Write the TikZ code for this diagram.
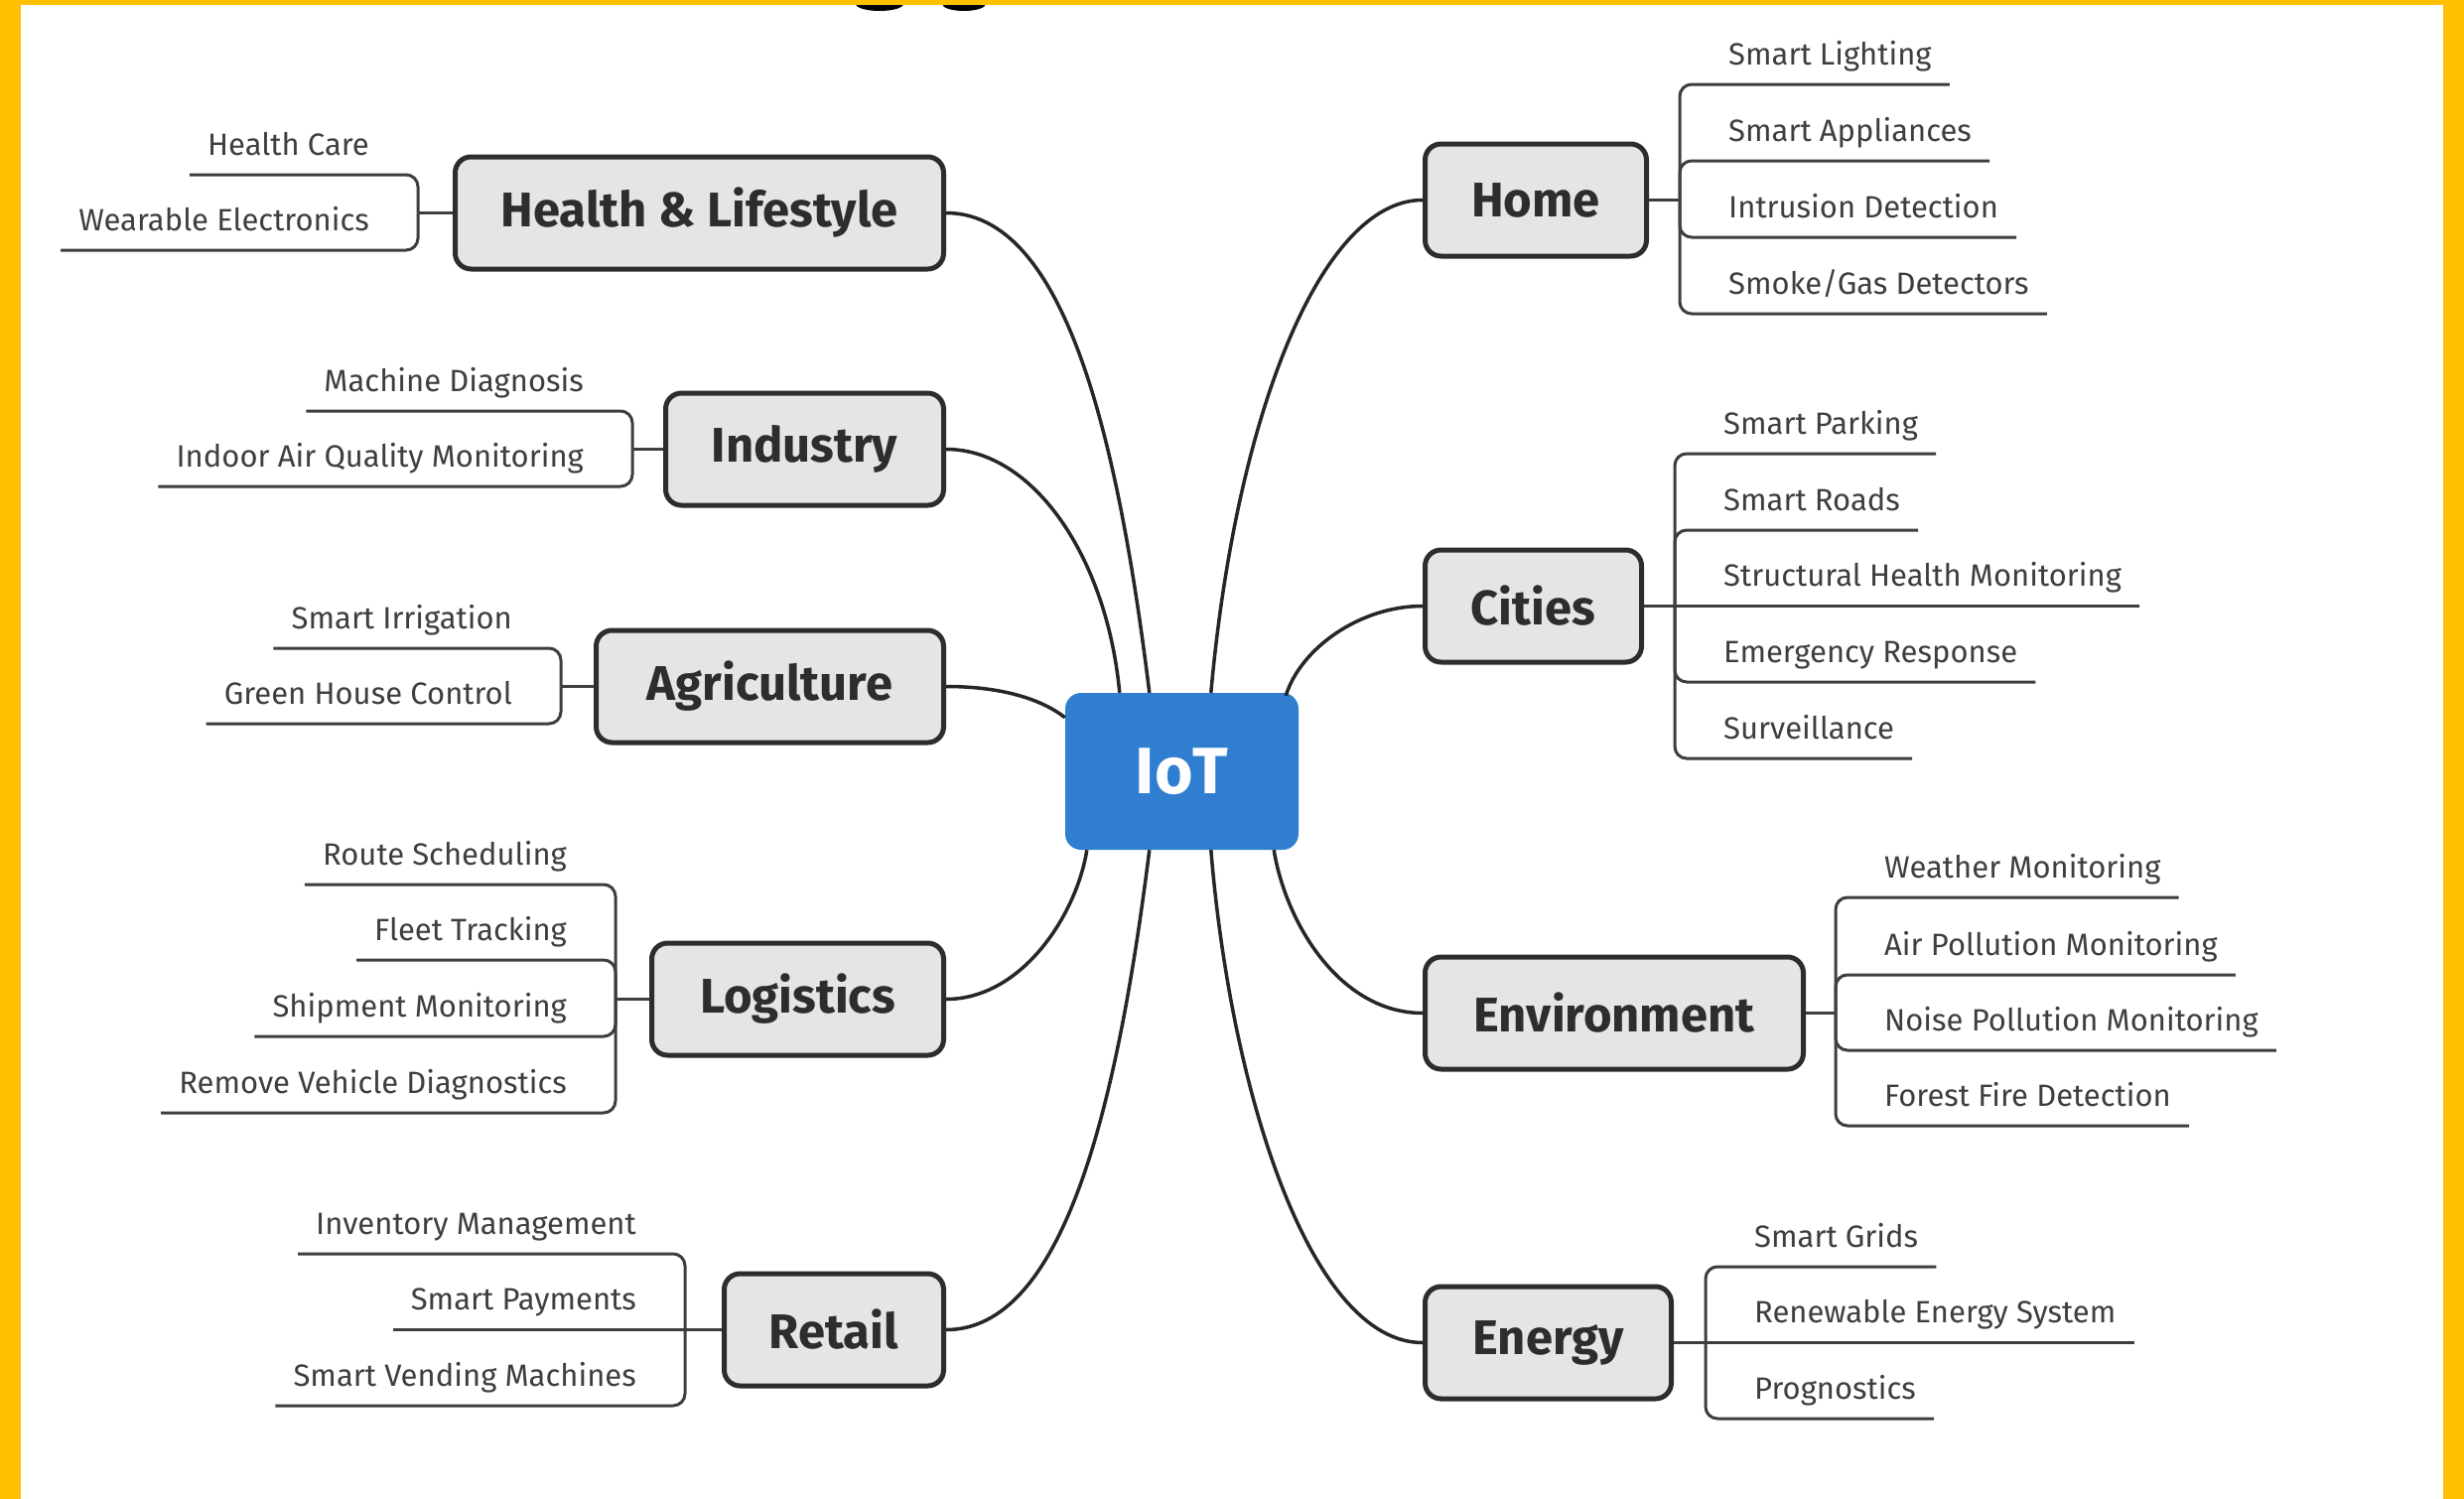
\documentclass[tikz,border=0pt]{standalone}
\usepackage{fontspec}
\setmainfont{Fira Sans}
\usetikzlibrary{calc}
\definecolor{iotblue}{RGB}{47,126,208}
\definecolor{boxgray}{RGB}{229,229,229}
\definecolor{edgegray}{RGB}{45,45,45}
\definecolor{leafgray}{RGB}{62,62,62}
\definecolor{frameyellow}{RGB}{255,192,0}
\begin{document}
\begin{tikzpicture}[x=1pt,y=-1pt,
  mainbox/.style={draw=edgegray, line width=5pt, fill=boxgray, rounded corners=16pt,
    minimum height=113pt, inner sep=0pt, text=edgegray,
    font=\bfseries\fontsize{49}{56}\selectfont},
  iotbox/.style={fill=iotblue, rounded corners=16pt, minimum width=235pt,
    minimum height=158pt, inner sep=0pt, text=white,
    font=\bfseries\fontsize{66}{76}\selectfont},
  link/.style={draw=black!85, line width=3.5pt},
  leafL/.style={anchor=base east, inner xsep=18pt, inner ysep=0pt, text=leafgray,
    font=\fontsize{31}{36}\selectfont},
  leafR/.style={anchor=base west, inner xsep=18pt, inner ysep=0pt, text=leafgray,
    font=\fontsize{31}{36}\selectfont},
  leafline/.style={draw=leafgray, line width=3pt, rounded corners=12pt},
  stubline/.style={draw=leafgray, line width=2.5pt}
]
\useasboundingbox (0,0) rectangle (2482,1510);
\fill[white] (0,0) rectangle (2482,1510);
% partial title glyphs at the top edge
\fill[black] (886,4) ellipse [x radius=24, y radius=7];
\fill[black] (971,4) ellipse [x radius=22, y radius=7];
% yellow frame
\fill[frameyellow] (0,0) rectangle (21,1510);
\fill[frameyellow] (0,0) rectangle (2482,5);
\fill[frameyellow] (2461,0) rectangle (2482,1510);

% central node
\node[iotbox] (iot) at (1190.5,777) {IoT};

% main nodes
\node[mainbox, minimum width=492pt] (health) at (704.5,214.5) {Health \& Lifestyle};
\node[mainbox, minimum width=280pt] (industry) at (810.5,452.5) {Industry};
\node[mainbox, minimum width=350pt] (agri) at (775.5,691.5) {Agriculture};
\node[mainbox, minimum width=294pt] (logi) at (803.5,1006.5) {Logistics};
\node[mainbox, minimum width=221pt] (retail) at (840,1339.5) {Retail};
\node[mainbox, minimum width=223pt] (home) at (1547,201.5) {Home};
\node[mainbox, minimum width=218pt] (cities) at (1544.5,610.5) {Cities};
\node[mainbox, minimum width=381pt] (env) at (1626,1020.5) {Environment};
\node[mainbox, minimum width=248pt] (energy) at (1559.5,1352.5) {Energy};

% links to IoT
\draw[link] (health.east) .. controls +(117,0) and +(-33,-268) .. ($(iot.north west)+(85,0)$);
\draw[link] (industry.east) .. controls +(87,0) and +(-13,-138) .. ($(iot.north west)+(55,0)$);
\draw[link] (agri.east) .. controls +(57,0) and +(-23,-18) .. ($(iot.north west)+(0,25)$);
\draw[link] (logi.east) .. controls +(77,0) and +(-10,64) .. ($(iot.south west)+(22,0)$);
\draw[link] (retail.east) .. controls +(117,0) and +(-33,264) .. ($(iot.south west)+(85,0)$);
\draw[link] (home.west) .. controls +(-103,0) and +(25,-278) .. ($(iot.north west)+(147,0)$);
\draw[link] (cities.west) .. controls +(-63,0) and +(15,-48) .. ($(iot.north east)+(-13,3)$);
\draw[link] (env.west) .. controls +(-83,0) and +(12,74) .. ($(iot.south east)+(-25,0)$);
\draw[link] (energy.west) .. controls +(-113,0) and +(20,244) .. ($(iot.south west)+(147,0)$);

% Health & Lifestyle
\coordinate (hb) at (421,214.5);
\node[leafL] (h1) at (390,156) {Health Care};
\node[leafL] (h2) at (390,232) {Wearable Electronics};
\draw[leafline] ($(h1.base west)+(0,20)$) -| (hb);
\draw[leafline] ($(h2.base west)+(0,20)$) -| (hb);
\draw[stubline] (hb) -- (health.west);

% Industry
\coordinate (ib) at (637,452.5);
\node[leafL] (i1) at (606,394) {Machine Diagnosis};
\node[leafL] (i2) at (606,470) {Indoor Air Quality Monitoring};
\draw[leafline] ($(i1.base west)+(0,20)$) -| (ib);
\draw[leafline] ($(i2.base west)+(0,20)$) -| (ib);
\draw[stubline] (ib) -- (industry.west);

% Agriculture
\coordinate (ab) at (565,691.5);
\node[leafL] (a1) at (534,633) {Smart Irrigation};
\node[leafL] (a2) at (534,709) {Green House Control};
\draw[leafline] ($(a1.base west)+(0,20)$) -| (ab);
\draw[leafline] ($(a2.base west)+(0,20)$) -| (ab);
\draw[stubline] (ab) -- (agri.west);

% Logistics
\coordinate (lb) at (620,1006.5);
\node[leafL] (l1) at (589,871) {Route Scheduling};
\node[leafL] (l2) at (589,947) {Fleet Tracking};
\node[leafL] (l3) at (589,1024) {Shipment Monitoring};
\node[leafL] (l4) at (589,1101) {Remove Vehicle Diagnostics};
\draw[leafline] ($(l1.base west)+(0,20)$) -| (lb);
\draw[leafline] ($(l2.base west)+(0,20)$) -| (lb);
\draw[leafline] ($(l3.base west)+(0,20)$) -| (lb);
\draw[leafline] ($(l4.base west)+(0,20)$) -| (lb);
\draw[stubline] (lb) -- (logi.west);

% Retail
\coordinate (rb) at (690,1339.5);
\node[leafL] (r1) at (659,1243) {Inventory Management};
\node[leafL] (r2) at (659,1319.5) {Smart Payments};
\node[leafL] (r3) at (659,1396) {Smart Vending Machines};
\draw[leafline] ($(r1.base west)+(0,20)$) -| (rb);
\draw[leafline] ($(r2.base west)+(0,20)$) -- (rb);
\draw[leafline] ($(r3.base west)+(0,20)$) -| (rb);
\draw[stubline] (rb) -- (retail.west);

% Home
\coordinate (mb) at (1692,201.5);
\node[leafR] (m1) at (1723,65) {Smart Lighting};
\node[leafR] (m2) at (1723,142) {Smart Appliances};
\node[leafR] (m3) at (1723,219) {Intrusion Detection};
\node[leafR] (m4) at (1723,296) {Smoke/Gas Detectors};
\draw[leafline] ($(m1.base east)+(0,20)$) -| (mb);
\draw[leafline] ($(m2.base east)+(0,20)$) -| (mb);
\draw[leafline] ($(m3.base east)+(0,20)$) -| (mb);
\draw[leafline] ($(m4.base east)+(0,20)$) -| (mb);
\draw[stubline] (mb) -- (home.east);

% Cities
\coordinate (cb) at (1687,610.5);
\node[leafR] (c1) at (1718,437) {Smart Parking};
\node[leafR] (c2) at (1718,514) {Smart Roads};
\node[leafR] (c3) at (1718,590.5) {Structural Health Monitoring};
\node[leafR] (c4) at (1718,667) {Emergency Response};
\node[leafR] (c5) at (1718,744) {Surveillance};
\draw[leafline] ($(c1.base east)+(0,20)$) -| (cb);
\draw[leafline] ($(c2.base east)+(0,20)$) -| (cb);
\draw[leafline] ($(c3.base east)+(0,20)$) -- (cb);
\draw[leafline] ($(c4.base east)+(0,20)$) -| (cb);
\draw[leafline] ($(c5.base east)+(0,20)$) -| (cb);
\draw[stubline] (cb) -- (cities.east);

% Environment
\coordinate (eb) at (1849,1020.5);
\node[leafR] (e1) at (1880,884) {Weather Monitoring};
\node[leafR] (e2) at (1880,962) {Air Pollution Monitoring};
\node[leafR] (e3) at (1880,1038) {Noise Pollution Monitoring};
\node[leafR] (e4) at (1880,1114) {Forest Fire Detection};
\draw[leafline] ($(e1.base east)+(0,20)$) -| (eb);
\draw[leafline] ($(e2.base east)+(0,20)$) -| (eb);
\draw[leafline] ($(e3.base east)+(0,20)$) -| (eb);
\draw[leafline] ($(e4.base east)+(0,20)$) -| (eb);
\draw[stubline] (eb) -- (env.east);

% Energy
\coordinate (gb) at (1718,1352.5);
\node[leafR] (g1) at (1749,1256) {Smart Grids};
\node[leafR] (g2) at (1749,1332.5) {Renewable Energy System};
\node[leafR] (g3) at (1749,1409) {Prognostics};
\draw[leafline] ($(g1.base east)+(0,20)$) -| (gb);
\draw[leafline] ($(g2.base east)+(0,20)$) -- (gb);
\draw[leafline] ($(g3.base east)+(0,20)$) -| (gb);
\draw[stubline] (gb) -- (energy.east);
\end{tikzpicture}
\end{document}
